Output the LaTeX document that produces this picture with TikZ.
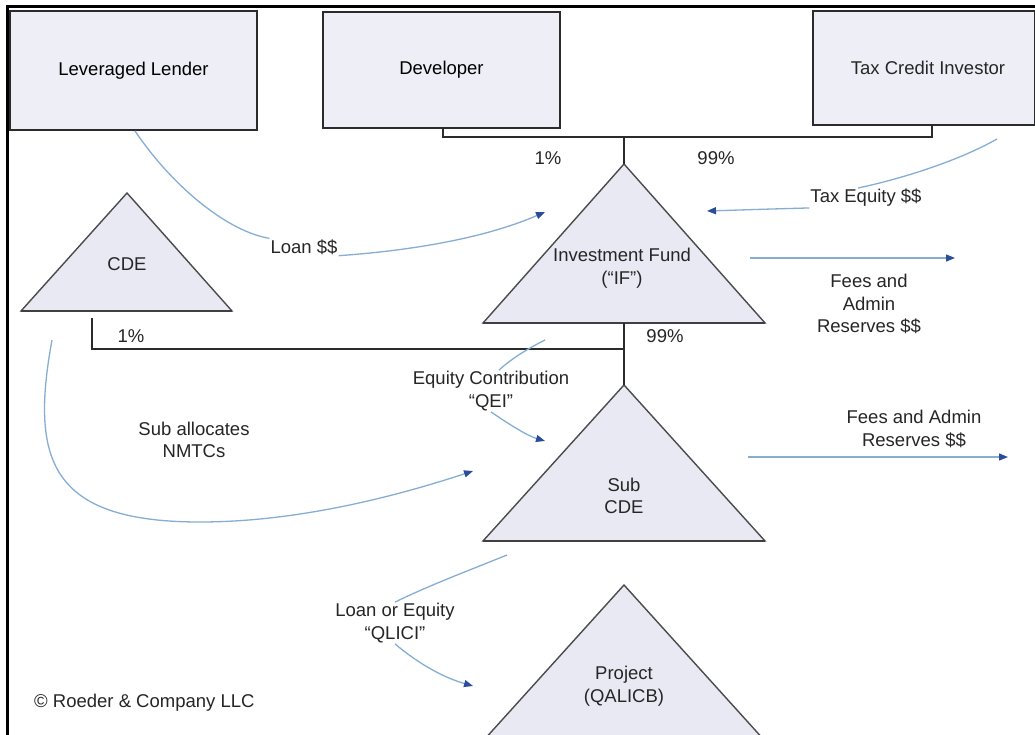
\documentclass[tikz,border=0pt]{standalone}
\usepackage{fontspec}
\setmainfont{Liberation Sans}
\usetikzlibrary{arrows.meta}
\definecolor{boxfill}{HTML}{EEEEF7}
\definecolor{trifill}{HTML}{E9E9F4}
\definecolor{curve}{HTML}{86AED3}
\definecolor{tipblue}{HTML}{2A4C9A}
\definecolor{edge}{HTML}{2B2B2B}
\tikzset{
  party/.style={draw=edge, line width=2pt, fill=boxfill, inner sep=0pt, font=\fontsize{18.5}{20}\selectfont},
  tri/.style={draw=edge!85, line width=1.4pt, fill=trifill, line join=miter},
  tribase/.style={draw=edge!90, line width=2.6pt},
  own/.style={draw=edge, line width=1.8pt},
  lbl/.style={font=\fontsize{18.5}{22.5}\selectfont, align=center, inner sep=1pt, text=black!85},
  flow/.style={draw=curve, line width=1.3pt},
  flowto/.style={flow, -{Triangle[length=9pt,width=7pt,color=tipblue]}},
}
\begin{document}
\begin{tikzpicture}[x=1pt,y=-1pt]
\useasboundingbox[fill=white] (0,0) rectangle (1035,735);
% frame
\draw[line width=3pt, black] (7,735) -- (7,7) -- (1035,7);
% parties
\node[party, minimum width=247pt, minimum height=119pt] (ll) at (133.5,70.5) {Leveraged Lender};
\node[party, minimum width=237pt, minimum height=116pt] (dev) at (441.5,70) {Developer};
\node[party, minimum width=222pt, minimum height=114pt] (tci) at (924,68) {};
\node[lbl] (tcit) at (928,68) {Tax Credit Investor};
% triangles
\coordinate (ifA) at (624,164); \coordinate (ifL) at (483,323); \coordinate (ifR) at (765,323);
\coordinate (cdeA) at (127,193); \coordinate (cdeL) at (21,311); \coordinate (cdeR) at (232,311);
\coordinate (subA) at (624,385); \coordinate (subL) at (483,541); \coordinate (subR) at (765,541);
\coordinate (prA) at (624,585); \coordinate (prL) at (483,741); \coordinate (prR) at (765,741);
\path[tri] (ifA) -- (ifR) -- (ifL) -- cycle;
\path[tribase] (ifL) -- (ifR);
\path[tri] (cdeA) -- (cdeR) -- (cdeL) -- cycle;
\path[tribase] (cdeL) -- (cdeR);
\path[tri] (subA) -- (subR) -- (subL) -- cycle;
\path[tribase] (subL) -- (subR);
\path[tri] (prA) -- (prR) -- (prL) -- cycle;
\node[lbl] (ift) at (622,268) {Investment Fund\\(``IF'')};
\node[lbl] (cdet) at (127,264) {CDE};
\node[lbl] (subt) at (624,496) {Sub\\CDE};
\node[lbl] (prt) at (624,686) {Project\\(QALICB)};
% ownership lines
\coordinate (devb) at (443,128); \coordinate (tcib) at (932,125);
\coordinate (jn) at (624,137);
\draw[own] (devb) -- (443,137) -- (932,137) -- (tcib);
\draw[own] (jn) -- (ifA);
\coordinate (cdeb) at (92,318); \coordinate (jn2) at (624,349);
\draw[own] (cdeb) -- (92,349) -- (jn2);
\draw[own] (624,323) -- (subA);
\node[lbl] (p1) at (548,158) {1\%};
\node[lbl] (p99) at (716,158) {99\%};
\node[lbl] (q1) at (131,336) {1\%};
\node[lbl] (q99) at (665,336) {99\%};
% flows
\node[lbl] (loan) at (304,247) {Loan \$\$};
\coordinate (llout) at (135,131); \coordinate (ifin1) at (545,212);
\draw[flow] (llout) .. controls (175,190) and (230,232) .. (loan.north west);
\draw[flowto] (loan.south east) .. controls (420,250) and (490,236) .. (ifin1);
\node[lbl] (taxeq) at (866,198) {Tax Equity \$\$};
\coordinate (tciout) at (997,139); \coordinate (ifin2) at (707,211);
\draw[flow] (tciout) .. controls (960,160) and (905,178) .. ([xshift=-8pt]taxeq.north);
\draw[flowto] (taxeq.south west) .. controls (770,209) and (740,210) .. (ifin2);
\coordinate (ifo) at (750,258); \coordinate (ifo2) at (955,258);
\draw[flowto] (ifo) -- (ifo2);
\node[lbl] (iffees) at (869,304) {Fees and\\Admin\\Reserves \$\$};
\node[lbl] (eqc) at (491,391) {Equity Contribution\\``QEI''};
\coordinate (ifout3) at (545,340); \coordinate (subin1) at (545,441);
\draw[flow] (ifout3) .. controls (525,350) and (510,360) .. ([xshift=8pt]eqc.north);
\draw[flowto] (eqc.south) .. controls (510,425) and (528,436) .. (subin1);
\node[lbl] (nmtc) at (194,440) {Sub allocates\\NMTCs};
\coordinate (cdeout) at (52,340); \coordinate (subin2) at (473,471);
\draw[flowto] (cdeout) .. controls (30,460) and (50,522) .. (200,522) .. controls (300,522) and (400,495) .. (subin2);
\coordinate (subo) at (748,457); \coordinate (subo2) at (1008,457);
\draw[flowto] (subo) -- (subo2);
\node[lbl] (subfees) at (914,429) {Fees and Admin\\Reserves \$\$};
\node[lbl] (qlici) at (395,623) {Loan or Equity\\``QLICI''};
\coordinate (subout) at (507,555); \coordinate (prin) at (473,686);
\draw[flow] (subout) .. controls (470,570) and (430,585) .. (qlici.north);
\draw[flowto] (qlici.south) .. controls (420,665) and (445,678) .. (prin);
\node[lbl, anchor=west] (copy) at (33,703) {© Roeder \& Company LLC};
\end{tikzpicture}
\end{document}
